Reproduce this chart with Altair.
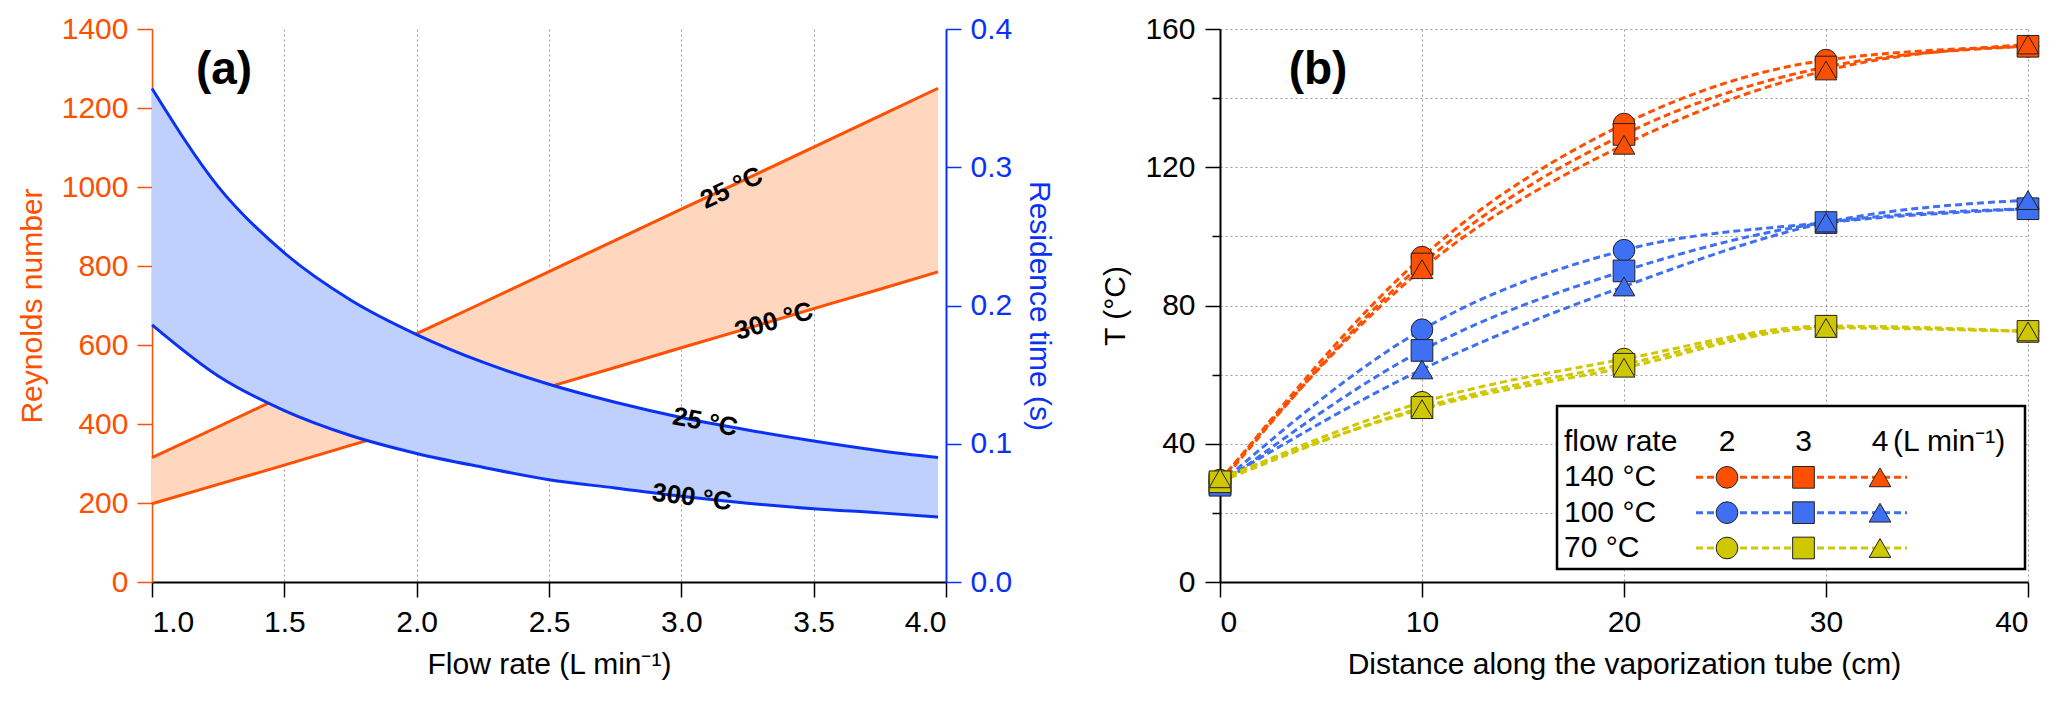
import pandas as pd
import altair as alt

# ---- panel (a): Reynolds number / residence time vs flow rate ----
flow = [1.0, 1.25, 1.5, 1.75, 2.0, 2.25, 2.5, 2.75, 3.0, 3.25, 3.5, 3.75, 3.97]
re_25 = [315, 393, 472, 550, 629, 707, 786, 865, 944, 1022, 1101, 1180, 1250]
re_300 = [198, 247, 296, 346, 395, 445, 494, 543, 593, 642, 692, 741, 785]
tau_25 = [0.357, 0.286, 0.238, 0.204, 0.179, 0.159, 0.143, 0.130, 0.119, 0.110, 0.102, 0.095, 0.090]
tau_300 = [0.186, 0.149, 0.124, 0.106, 0.093, 0.083, 0.074, 0.068, 0.062, 0.057, 0.053, 0.050, 0.047]

re_lab_x = [3.19, 3.35]
re_lab_y = [997, 660]
re_lab_t = ["25 °C", "300 °C"]
re_lab_angle = [335, 344]
tau_lab_x = [3.09, 3.04]
tau_lab_y = [0.1155, 0.0612]
tau_lab_t = ["25 °C", "300 °C"]
tau_lab_angle = [11, 7]

# ---- panel (b): temperature along the vaporization tube ----
dist = [0, 10, 20, 30, 40]
temps = ["140 °C", "100 °C", "70 °C"]
flows = ["2", "3", "4"]
t140_f2 = [29, 94, 132.5, 151, 155]
t140_f3 = [28.5, 92, 129.5, 149, 155]
t140_f4 = [29.5, 90.5, 126.5, 148, 155.5]
t100_f2 = [28.5, 73, 96, 104, 108]
t100_f3 = [28, 67, 90, 104, 108]
t100_f4 = [29, 61.5, 85.5, 104, 110.5]
t70_f2 = [29.5, 52, 64.5, 74, 72.5]
t70_f3 = [29, 50.5, 63, 74, 72.5]
t70_f4 = [30, 50, 62, 73.5, 72.5]

ORANGE = "#FF4F00"
BLUE = "#0A32F5"
ORANGE_FILL = "#FFD6BE"
BLUE_FILL = "#BFD0FC"
temp_colors = ["#FF4F00", "#3F6FF2", "#CFC800"]
FONT = "Liberation Sans"

df_a = pd.DataFrame({"flow": flow, "re25": re_25, "re300": re_300,
                     "tau25": tau_25, "tau300": tau_300})

xa = alt.X("flow:Q", scale=alt.Scale(domain=[1, 4], nice=False, zero=False),
           axis=alt.Axis(values=[1, 1.5, 2, 2.5, 3, 3.5, 4], format=".1f",
                         title="Flow rate (L min⁻¹)", grid=True, gridDash=[2, 3],
                         gridColor="#999", domainColor="black", domainWidth=2,
                         tickColor="black", tickWidth=1.5, labelPadding=10,
                         titlePadding=12))

re_axis = alt.Axis(values=list(range(0, 1401, 200)), format="d", title="Reynolds number",
                   orient="left", grid=False, domainColor=ORANGE, domainWidth=1.5,
                   tickColor=ORANGE, tickWidth=1.5, labelColor=ORANGE,
                   titleColor=ORANGE, labelPadding=9, titlePadding=14)
re_scale = alt.Scale(domain=[0, 1400], nice=False)
tau_axis = alt.Axis(values=[0, 0.1, 0.2, 0.3, 0.4], format=".1f",
                    title="Residence time (s)", orient="right", grid=False,
                    domainColor=BLUE, domainWidth=2, tickColor=BLUE, tickWidth=1.5,
                    labelColor=BLUE, titleColor=BLUE, labelPadding=9, titlePadding=12)
tau_scale = alt.Scale(domain=[0, 0.4], nice=False)

base_a = alt.Chart(df_a)
re_band = base_a.mark_area(color=ORANGE_FILL).encode(
    x=xa, y=alt.Y("re300:Q", scale=re_scale, axis=re_axis), y2="re25:Q")
re_l25 = base_a.mark_line(color=ORANGE, strokeWidth=3).encode(
    x=xa, y=alt.Y("re25:Q", scale=re_scale, axis=re_axis))
re_l300 = base_a.mark_line(color=ORANGE, strokeWidth=3).encode(
    x=xa, y=alt.Y("re300:Q", scale=re_scale, axis=re_axis))

re_labels = []
for fx, fy, t, ang in zip(re_lab_x, re_lab_y, re_lab_t, re_lab_angle):
    re_labels.append(alt.Chart(pd.DataFrame({"flow": [fx], "re25": [fy], "t": [t]}))
                     .mark_text(angle=ang, fontSize=26, fontWeight="bold", color="black")
                     .encode(x=xa, y=alt.Y("re25:Q", scale=re_scale, axis=re_axis), text="t:N"))

tag_a = alt.Chart(pd.DataFrame({"t": ["(a)"]})).mark_text(
    fontSize=46, fontWeight="bold", color="black", align="center", baseline="middle"
).encode(x=alt.value(72), y=alt.value(41), text="t:N")

orange_part = alt.layer(re_band, re_l25, re_l300, *re_labels, tag_a)

tau_band = base_a.mark_area(color=BLUE_FILL, interpolate="monotone").encode(
    x=xa, y=alt.Y("tau300:Q", scale=tau_scale, axis=tau_axis), y2="tau25:Q")
tau_l25 = base_a.mark_line(color=BLUE, strokeWidth=3, interpolate="monotone").encode(
    x=xa, y=alt.Y("tau25:Q", scale=tau_scale, axis=tau_axis))
tau_l300 = base_a.mark_line(color=BLUE, strokeWidth=3, interpolate="monotone").encode(
    x=xa, y=alt.Y("tau300:Q", scale=tau_scale, axis=tau_axis))
tau_labels = []
for fx, fy, t, ang in zip(tau_lab_x, tau_lab_y, tau_lab_t, tau_lab_angle):
    tau_labels.append(alt.Chart(pd.DataFrame({"flow": [fx], "tau25": [fy], "t": [t]}))
                      .mark_text(angle=ang, fontSize=26, fontWeight="bold", color="black")
                      .encode(x=xa, y=alt.Y("tau25:Q", scale=tau_scale, axis=tau_axis), text="t:N"))

blue_part = alt.layer(tau_band, tau_l25, tau_l300, *tau_labels)

left = alt.layer(orange_part, blue_part).resolve_scale(y="independent").properties(
    width=794, height=553)

# ---- panel (b) ----
series_b = {
    ("140 °C", "2"): t140_f2, ("140 °C", "3"): t140_f3, ("140 °C", "4"): t140_f4,
    ("100 °C", "2"): t100_f2, ("100 °C", "3"): t100_f3, ("100 °C", "4"): t100_f4,
    ("70 °C", "2"): t70_f2, ("70 °C", "3"): t70_f3, ("70 °C", "4"): t70_f4,
}
rows = []
for tp in temps:
    for fl in flows:
        for d, v in zip(dist, series_b[(tp, fl)]):
            rows.append({"dist": d, "T": v, "temp": tp, "flow": fl})
df_b = pd.DataFrame(rows)

temp_scale = alt.Scale(domain=temps, range=temp_colors)
shape_scale = alt.Scale(domain=flows, range=["circle", "square", "triangle-up"])

xb = alt.X("dist:Q", scale=alt.Scale(domain=[0, 40], nice=False),
           axis=alt.Axis(values=dist, title="Distance along the vaporization tube (cm)",
                         grid=True, gridDash=[2, 3], gridColor="#999",
                         domainColor="black", domainWidth=2, tickColor="black",
                         tickWidth=1.5, labelPadding=10, titlePadding=12))
yb = alt.Y("T:Q", scale=alt.Scale(domain=[0, 160], nice=False),
           axis=alt.Axis(values=list(range(0, 161, 20)), title="T (°C)",
                         labelExpr="datum.value % 40 == 0 ? datum.label : ''",
                         tickSize={"condition": {"test": "datum.value % 40 == 0", "value": 15}, "value": 8},
                         grid=True, gridDash=[2, 3], gridColor="#999",
                         domainColor="black", domainWidth=2, tickColor="black",
                         tickWidth=1.5, labelPadding=10, titlePadding=14))

lines_b = alt.Chart(df_b).mark_line(interpolate="monotone", strokeDash=[7, 4], strokeWidth=3).encode(
    x=xb, y=yb, color=alt.Color("temp:N", scale=temp_scale, legend=None), detail="flow:N")
points_b = alt.Chart(df_b).mark_point(filled=True, size=470, stroke="#222", strokeWidth=1, opacity=1).encode(
    x=xb, y=yb, fill=alt.Fill("temp:N", scale=temp_scale, legend=None),
    shape=alt.Shape("flow:N", scale=shape_scale, legend=None))
tag_b = alt.Chart(pd.DataFrame({"t": ["(b)"]})).mark_text(
    fontSize=46, fontWeight="bold", color="black", align="center", baseline="middle"
).encode(x=alt.value(98), y=alt.value(41), text="t:N")
main_b = alt.layer(lines_b, points_b, tag_b)

# legend table
leg_rows = ["flow rate"] + temps
leg_y = alt.Y("row:N", scale=alt.Scale(type="point", domain=leg_rows, range=[413, 519], padding=0), axis=None)
leg_x = alt.X("flow:N", scale=alt.Scale(type="point", domain=flows, range=[507, 660], padding=0), axis=None)
leg_df = pd.DataFrame([{"row": tp, "temp": tp, "flow": fl} for tp in temps for fl in flows])

box = alt.Chart(pd.DataFrame({"k": [0]})).mark_rect(fill="white", stroke="black", strokeWidth=2.5).encode(
    x=alt.value(337), x2=alt.value(805), y=alt.value(377), y2=alt.value(540))
leg_rules = alt.Chart(pd.DataFrame({"row": temps, "temp": temps})).mark_rule(
    strokeDash=[7, 4], strokeWidth=3).encode(
    x=alt.value(476), x2=alt.value(687), y=leg_y,
    color=alt.Color("temp:N", scale=temp_scale, legend=None))
leg_syms = alt.Chart(leg_df).mark_point(filled=True, size=470, stroke="#222", strokeWidth=1, opacity=1).encode(
    x=leg_x, y=leg_y, fill=alt.Fill("temp:N", scale=temp_scale, legend=None),
    shape=alt.Shape("flow:N", scale=shape_scale, legend=None))
leg_rowtext = alt.Chart(pd.DataFrame({"row": leg_rows})).mark_text(
    align="left", baseline="middle", fontSize=30, color="black").encode(
    x=alt.value(344), y=leg_y, text="row:N")
leg_head = alt.Chart(pd.DataFrame({"row": ["flow rate"] * 3, "flow": flows})).mark_text(
    align="center", baseline="middle", fontSize=30, color="black").encode(
    x=leg_x, y=leg_y, text="flow:N")
leg_unit = alt.Chart(pd.DataFrame({"row": ["flow rate"], "flow": ["4"], "t": ["(L min⁻¹)"]})).mark_text(
    align="left", baseline="middle", dx=13, fontSize=30, color="black").encode(
    x=leg_x, y=leg_y, text="t:N")
legend_b = alt.layer(box, leg_rules, leg_syms, leg_rowtext, leg_head, leg_unit)

right = alt.layer(main_b, legend_b).resolve_scale(x="independent", y="independent").properties(
    width=808, height=553)

chart = alt.hconcat(left, right, spacing=46).configure(
    font=FONT, padding={"left": 9, "top": 6, "right": 5, "bottom": 5}
).configure_view(stroke=None).configure_axis(
    labelFontSize=30, titleFontSize=30, titleFontWeight="normal", tickSize=15,
    labelColor="black", titleColor="black", labelFont=FONT, titleFont=FONT
)

chart.save("out.html", embed_options={"renderer": "svg", "actions": False})
